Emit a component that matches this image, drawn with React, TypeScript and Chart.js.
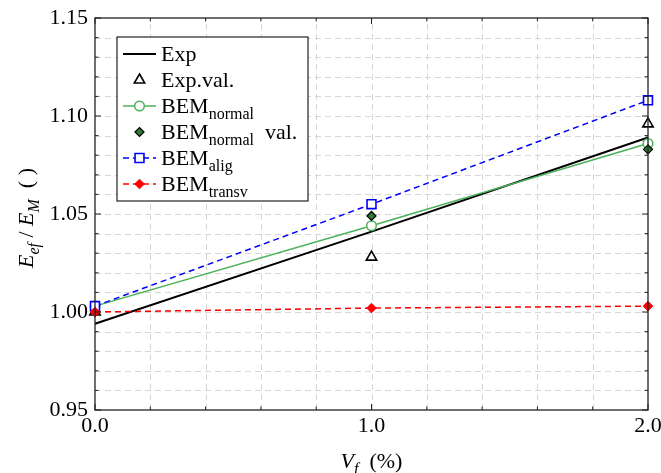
import React, { useEffect, useRef } from "react";
import { Chart, registerables } from "chart.js";
import { drawPoint } from "chart.js/helpers";

Chart.register(...registerables);

// Fibre volume fraction (%)
const volumeFractions = [0, 1, 2];
// Normalised effective modulus E_ef / E_M
const expFit = [0.994, 1.041, 1.089];
const expValues = [1.0, 1.028, 1.096];
const bemNormal = [1.003, 1.044, 1.086];
const bemNormalVal = [1.0, 1.049, 1.083];
const bemAlig = [1.003, 1.055, 1.108];
const bemTransv = [1.0, 1.002, 1.003];

const yMajorTicks = [0.95, 1.0, 1.05, 1.1, 1.15];
const xMajorTicks = [0, 1, 2];
const yMinorStep = 0.01;
const xMinorStep = 0.2;

const SERIF = '"Liberation Serif", "Times New Roman", serif';
const GREEN = "#4cb05a";
const DARK_GREEN = "#2f7a34";
const BLUE = "#0000ff";
const RED = "#ff0000";

type Part = { t: string; sub?: boolean; it?: boolean };

const fontFor = (p: Part, size: number) =>
  `${p.it ? "italic " : ""}${p.sub ? Math.round(size * 0.74) : size}px ${SERIF}`;

function richWidth(ctx: CanvasRenderingContext2D, parts: Part[], size: number) {
  let w = 0;
  for (const p of parts) {
    ctx.font = fontFor(p, size);
    w += ctx.measureText(p.t).width;
  }
  return w;
}

function drawRich(
  ctx: CanvasRenderingContext2D,
  x: number,
  y: number,
  parts: Part[],
  size: number
) {
  ctx.textBaseline = "alphabetic";
  ctx.textAlign = "left";
  let cx = x;
  for (const p of parts) {
    ctx.font = fontFor(p, size);
    ctx.fillText(p.t, cx, p.sub ? y + size * 0.25 : y);
    cx += ctx.measureText(p.t).width;
  }
}

const pairs = (ys: number[]) => volumeFractions.map((x, i) => ({ x, y: ys[i] }));

type LegendEntry = {
  parts: Part[];
  line?: { color: string; width: number; dash: number[] };
  marker?: { style: string; radius: number; fill: string; stroke: string; width: number };
};

const legendEntries: LegendEntry[] = [
  { parts: [{ t: "Exp" }], line: { color: "#000", width: 2, dash: [] } },
  {
    parts: [{ t: "Exp.val." }],
    marker: { style: "triangle", radius: 6, fill: "#fff", stroke: "#000", width: 1.6 },
  },
  {
    parts: [{ t: "BEM" }, { t: "normal", sub: true }],
    line: { color: GREEN, width: 1.5, dash: [] },
    marker: { style: "circle", radius: 4.8, fill: "#fff", stroke: GREEN, width: 1.5 },
  },
  {
    parts: [{ t: "BEM" }, { t: "normal", sub: true }, { t: "  val." }],
    marker: { style: "rectRot", radius: 4.5, fill: DARK_GREEN, stroke: "#000", width: 1.2 },
  },
  {
    parts: [{ t: "BEM" }, { t: "alig", sub: true }],
    line: { color: BLUE, width: 1.5, dash: [6, 4] },
    marker: { style: "rect", radius: 6.3, fill: "#fff", stroke: BLUE, width: 1.6 },
  },
  {
    parts: [{ t: "BEM" }, { t: "transv", sub: true }],
    line: { color: RED, width: 1.5, dash: [6, 4] },
    marker: { style: "rectRot", radius: 4.8, fill: RED, stroke: RED, width: 1 },
  },
];

const gridPlugin = {
  id: "dashedGrid",
  beforeDatasetsDraw(chart: any) {
    const { ctx, chartArea: a, scales } = chart;
    ctx.save();
    ctx.strokeStyle = "#d6d6d6";
    ctx.lineWidth = 1;
    ctx.setLineDash([6, 4]);
    const ny = Math.round((1.15 - 0.95) / yMinorStep);
    for (let i = 1; i < ny; i++) {
      const py = Math.round(scales.y.getPixelForValue(0.95 + i * yMinorStep)) + 0.5;
      ctx.beginPath();
      ctx.moveTo(a.left, py);
      ctx.lineTo(a.right, py);
      ctx.stroke();
    }
    const nx = Math.round(2 / xMinorStep);
    for (let i = 1; i < nx; i++) {
      const px = Math.round(scales.x.getPixelForValue(i * xMinorStep)) + 0.5;
      ctx.beginPath();
      ctx.moveTo(px, a.bottom);
      ctx.lineTo(px, a.top);
      ctx.stroke();
    }
    ctx.restore();
  },
};

const decorPlugin = {
  id: "decor",
  afterDraw(chart: any) {
    const { ctx, chartArea: a, scales } = chart;
    const xs = scales.x;
    const ys = scales.y;
    ctx.save();

    // inward tick marks on all four sides
    ctx.strokeStyle = "#222";
    ctx.lineWidth = 1;
    ctx.setLineDash([]);
    for (let i = 0; i <= 20; i++) {
      const v = 0.95 + i * yMinorStep;
      const py = ys.getPixelForValue(v);
      const len = yMajorTicks.some((m) => Math.abs(m - v) < 1e-6) ? 6 : 3.5;
      ctx.beginPath();
      ctx.moveTo(a.left, py);
      ctx.lineTo(a.left + len, py);
      ctx.moveTo(a.right, py);
      ctx.lineTo(a.right - len, py);
      ctx.stroke();
    }
    for (let i = 0; i <= 10; i++) {
      const v = i * xMinorStep;
      const px = xs.getPixelForValue(v);
      const len = xMajorTicks.some((m) => Math.abs(m - v) < 1e-6) ? 6 : 3.5;
      ctx.beginPath();
      ctx.moveTo(px, a.bottom);
      ctx.lineTo(px, a.bottom - len);
      ctx.moveTo(px, a.top);
      ctx.lineTo(px, a.top + len);
      ctx.stroke();
    }

    // frame
    ctx.lineWidth = 1.3;
    ctx.strokeRect(a.left, a.top, a.right - a.left, a.bottom - a.top);

    // axis titles
    ctx.fillStyle = "#000";
    const xTitle: Part[] = [{ t: "V", it: true }, { t: "f", it: true, sub: true }, { t: "  (%)" }];
    const xw = richWidth(ctx, xTitle, 22);
    drawRich(ctx, (a.left + a.right) / 2 - xw / 2, 468, xTitle, 22);

    const yTitle: Part[] = [
      { t: "E", it: true },
      { t: "ef", it: true, sub: true },
      { t: " / " },
      { t: "E", it: true },
      { t: "M", it: true, sub: true },
      { t: "  ( )" },
    ];
    const yw = richWidth(ctx, yTitle, 22);
    ctx.save();
    ctx.translate(33, 218);
    ctx.rotate(-Math.PI / 2);
    drawRich(ctx, -yw / 2, 0, yTitle, 22);
    ctx.restore();

    // legend
    const lx = 117;
    const ly = 37;
    const lw = 191;
    const lh = 164;
    ctx.fillStyle = "#fff";
    ctx.fillRect(lx, ly, lw, lh);
    ctx.strokeStyle = "#222";
    ctx.lineWidth = 1.2;
    ctx.strokeRect(lx, ly, lw, lh);
    legendEntries.forEach((e, i) => {
      const cy = ly + 17 + i * 26;
      if (e.line) {
        ctx.strokeStyle = e.line.color;
        ctx.lineWidth = e.line.width;
        ctx.setLineDash(e.line.dash);
        ctx.beginPath();
        ctx.moveTo(123, cy);
        ctx.lineTo(156, cy);
        ctx.stroke();
        ctx.setLineDash([]);
      }
      if (e.marker) {
        ctx.fillStyle = e.marker.fill;
        ctx.strokeStyle = e.marker.stroke;
        ctx.lineWidth = e.marker.width;
        drawPoint(
          ctx,
          { pointStyle: e.marker.style, radius: e.marker.radius, borderWidth: e.marker.width, rotation: 0 } as any,
          139.5,
          cy
        );
      }
      ctx.fillStyle = "#000";
      drawRich(ctx, 161, cy + 7, e.parts, 22);
    });

    ctx.restore();
  },
};

export default function App() {
  const canvasRef = useRef<HTMLCanvasElement>(null);

  useEffect(() => {
    const canvas = canvasRef.current;
    if (!canvas) return;

    const chart = new Chart(canvas, {
      type: "scatter",
      data: {
        datasets: [
          {
            label: "Exp",
            data: pairs(expFit),
            showLine: true,
            borderColor: "#000",
            borderWidth: 2,
            pointRadius: 0,
            order: 6,
          },
          {
            label: "Exp.val.",
            data: pairs(expValues),
            showLine: false,
            pointStyle: "triangle",
            pointRadius: 6,
            pointBorderWidth: 1.6,
            pointBorderColor: "#000",
            pointBackgroundColor: "#fff",
            order: 5,
          },
          {
            label: "BEM normal",
            data: pairs(bemNormal),
            showLine: true,
            borderColor: GREEN,
            borderWidth: 1.5,
            pointStyle: "circle",
            pointRadius: 4.8,
            pointBorderWidth: 1.5,
            pointBorderColor: GREEN,
            pointBackgroundColor: "#fff",
            order: 4,
          },
          {
            label: "BEM normal val.",
            data: pairs(bemNormalVal),
            showLine: false,
            pointStyle: "rectRot",
            pointRadius: 4.5,
            pointBorderWidth: 1.2,
            pointBorderColor: "#000",
            pointBackgroundColor: DARK_GREEN,
            order: 3,
          },
          {
            label: "BEM alig",
            data: pairs(bemAlig),
            showLine: true,
            borderColor: BLUE,
            borderWidth: 1.5,
            borderDash: [6, 4],
            pointStyle: "rect",
            pointRadius: 6.3,
            pointBorderWidth: 1.6,
            pointBorderColor: BLUE,
            pointBackgroundColor: "#fff",
            order: 2,
          },
          {
            label: "BEM transv",
            data: pairs(bemTransv),
            showLine: true,
            borderColor: RED,
            borderWidth: 1.5,
            borderDash: [6, 4],
            pointStyle: "rectRot",
            pointRadius: 4.8,
            pointBorderWidth: 1,
            pointBorderColor: RED,
            pointBackgroundColor: RED,
            order: 1,
          },
        ] as any,
      },
      options: {
        animation: false,
        responsive: true,
        maintainAspectRatio: false,
        layout: { padding: { top: 18, right: 13, left: 0, bottom: 0 } },
        elements: { line: { tension: 0 } },
        datasets: { scatter: { clip: false } } as any,
        plugins: { legend: { display: false }, tooltip: { enabled: false } },
        scales: {
          x: {
            type: "linear",
            min: 0,
            max: 2,
            ticks: {
              stepSize: xMinorStep,
              autoSkip: false,
              maxRotation: 0,
              padding: 3,
              color: "#000",
              font: { family: SERIF, size: 22 },
              callback: (v: any) =>
                xMajorTicks.some((m) => Math.abs(m - Number(v)) < 1e-6) ? Number(v).toFixed(1) : "",
            },
            grid: { display: false, drawTicks: false },
            border: { display: false },
            afterFit: (s: any) => {
              s.height = 63;
              s.paddingLeft = 0;
              s.paddingRight = 0;
            },
          },
          y: {
            type: "linear",
            min: 0.95,
            max: 1.15,
            ticks: {
              stepSize: yMinorStep,
              autoSkip: false,
              padding: 7,
              color: "#000",
              font: { family: SERIF, size: 22 },
              callback: (v: any) =>
                yMajorTicks.some((m) => Math.abs(m - Number(v)) < 1e-6) ? Number(v).toFixed(2) : "",
            },
            grid: { display: false, drawTicks: false },
            border: { display: false },
            afterFit: (s: any) => {
              s.width = 95;
              s.paddingTop = 0;
              s.paddingBottom = 0;
            },
          },
        },
      } as any,
      plugins: [gridPlugin, decorPlugin],
    });

    return () => chart.destroy();
  }, []);

  return (
    <div style={{ position: "fixed", left: 0, top: 0, width: 661, height: 473, background: "#fff" }}>
      <canvas ref={canvasRef} />
    </div>
  );
}
